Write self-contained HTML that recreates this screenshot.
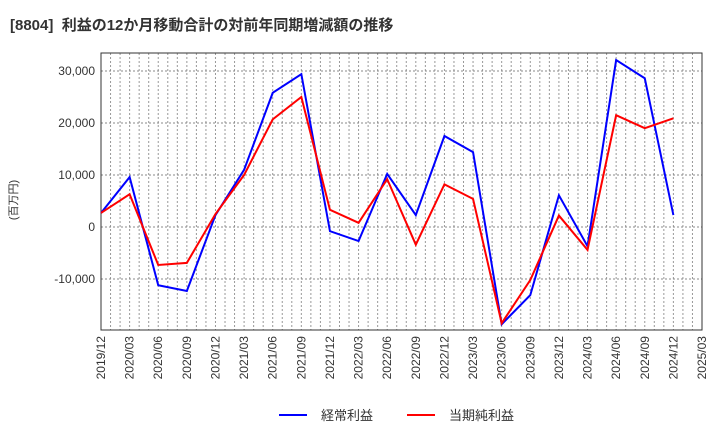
<!DOCTYPE html>
<html><head><meta charset="utf-8"><style>
body{margin:0;background:#fff;font-family:"Liberation Sans","Noto Sans CJK JP",sans-serif;}
</style></head><body>
<svg width="720" height="440" id="c" xmlns="http://www.w3.org/2000/svg">
<text x="10" y="30" font-size="15" font-weight="bold" fill="#333" xml:space="preserve" style="white-space:pre" font-family="Liberation Sans, Noto Sans CJK JP, sans-serif">[8804]  利益の12か月移動合計の対前年同期増減額の推移</text>
<text transform="translate(17,200) rotate(-90)" font-size="11" fill="#333" text-anchor="middle" font-family="Liberation Sans, Noto Sans CJK JP, sans-serif">(百万円)</text>
</svg>
<script>
const labels=["2019/12","2020/03","2020/06","2020/09","2020/12","2021/03","2021/06","2021/09","2021/12","2022/03","2022/06","2022/09","2022/12","2023/03","2023/06","2023/09","2023/12","2024/03","2024/06","2024/09","2024/12","2025/03"];
const blue=[2700,9600,-11200,-12300,2300,11000,25800,29400,-800,-2700,10200,2300,17500,14400,-18700,-13100,6100,-3700,32100,28600,2300];
const red=[2700,6300,-7300,-6900,2500,10000,20700,25000,3300,800,9200,-3400,8200,5400,-18500,-10200,2200,-4400,21500,19000,20900];
const yTicks=[-10000,0,10000,20000,30000];
const yTickLabels=["-10,000","0","10,000","20,000","30,000"];
const NS="http://www.w3.org/2000/svg",svg=document.getElementById('c');
const L=101,R=702,T=53,B=330;
const xs=i=>L+(R-L)*i/(labels.length-1);
const ys=v=>227-v*52/10000;
function mk(t,a){const e=document.createElementNS(NS,t);for(const k in a)e.setAttribute(k,a[k]);svg.appendChild(e);return e;}
const g=mk('g',{});


for(let m=1;m<(labels.length-1)*3;m++){const x=L+(R-L)*m/((labels.length-1)*3);const l=document.createElementNS(NS,'line');l.setAttribute('x1',x);l.setAttribute('x2',x);l.setAttribute('y1',T);l.setAttribute('y2',B);l.setAttribute('stroke','#999');l.setAttribute('stroke-dasharray','2,2');l.setAttribute('stroke-width','1');g.appendChild(l);}
yTicks.forEach((v,i)=>{const y=ys(v);const l=mk('line',{x1:L,x2:R,y1:y,y2:y,stroke:'#888','stroke-dasharray':'2,2'});


const t=mk('text',{x:L-6,y:y+4,'text-anchor':'end','font-size':'12',fill:'#333'});t.textContent=yTickLabels[i];

});
labels.forEach((s,i)=>{const x=xs(i);const t=mk('text',{transform:`translate(${x+4},${B+6}) rotate(-90)`,'text-anchor':'end','font-size':'12',fill:'#333'});t.textContent=s;

});
const fr=mk('rect',{x:L,y:T,width:R-L,height:B-T,fill:'none',stroke:'#333','stroke-width':'1'});


function line(d,c,n){const p=mk('polyline',{points:d.map((v,i)=>xs(i)+','+ys(v)).join(' '),fill:'none',stroke:c,'stroke-width':'2'});

}
line(blue,'#0000ff','series-keijo-rieki');
line(red,'#ff0000','series-junrieki');
function leg(x,c,s,n){const l=mk('line',{x1:x,x2:x+28,y1:415,y2:415,stroke:c,'stroke-width':'2'});


const t=mk('text',{x:x+42,y:420,'font-size':'13',fill:'#333'});t.textContent=s;

}
leg(279,'#0000ff','経常利益','legend-entry-keijo');
leg(407,'#ff0000','当期純利益','legend-entry-junrieki');
</script>
</body></html>
